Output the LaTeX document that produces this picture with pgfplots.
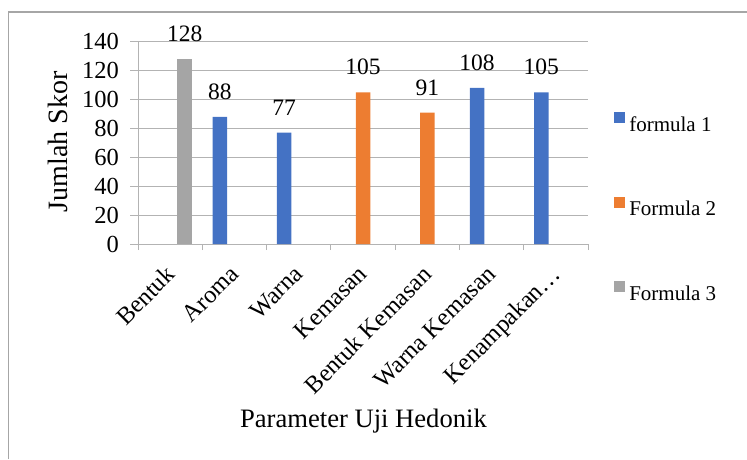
\documentclass[border=0pt]{standalone}
\usepackage{fontspec}
\setmainfont{Liberation Serif}
\usepackage{pgfplots}
\pgfplotsset{compat=1.18}
\definecolor{fa}{HTML}{4472C4}
\definecolor{fb}{HTML}{ED7D31}
\definecolor{fc}{HTML}{A5A5A5}
\definecolor{gridc}{HTML}{B3B3B3}
\definecolor{framec}{HTML}{A6A6A6}
\begin{document}
\begin{tikzpicture}
\path[use as bounding box] (0pt,0pt) rectangle (747pt,459pt);
\draw[framec, line width=1.2pt] (8.5pt,0pt) -- (8.5pt,447pt) -- (747pt,447pt);
\begin{axis}[
  at={(138pt,215pt)}, anchor=south west,
  scale only axis, width=450pt, height=202.3pt,
  xmin=-0.5, xmax=6.5, ymin=0, ymax=140,
  ytick={0,20,...,140},
  xtick={0,...,6},
  xticklabels={Bentuk,Aroma,Warna,Kemasan,Bentuk Kemasan,Warna Kemasan,Kenampakan…},
  minor xtick={-0.5,0.5,...,6.5},
  axis x line*=bottom, axis y line*=left,
  ymajorgrids, grid style={gridc, line width=0.8pt},
  axis line style={gridc, line width=0.8pt},
  tick style={gridc, line width=0.8pt},
  major x tick style={draw=none},
  tick align=outside, major tick length=8pt, minor tick length=6pt,
  /pgf/number format/assume math mode=true,
  yticklabel style={font=\fontsize{24.5}{24.5}\selectfont, inner sep=0pt, anchor=east, xshift=-11pt},
  xticklabel style={font=\fontsize{24.5}{24.5}\selectfont, inner sep=0pt, xshift=-6pt, yshift=-12pt, rotate=45, anchor=north east},
  ylabel={Jumlah Skor},
  ylabel style={font=\fontsize{28}{28}\selectfont, at={(axis description cs:-0.177,0.505)}, anchor=center},
  xlabel={Parameter Uji Hedonik},
  xlabel style={font=\fontsize{26.6}{26.6}\selectfont, at={(axis description cs:0.501,-0.9046)}, anchor=base},
  ybar, bar width=14.5pt,
  nodes near coords,
  every node near coord/.append style={font=\fontsize{23.5}{23.5}\selectfont, text=black, inner sep=0pt, anchor=south, yshift=17pt},
  legend cell align=left,
  legend style={draw=none, fill=none, at={(axis description cs:1.058,0.183)}, anchor=west,
    font=\fontsize{21}{21}\selectfont, row sep=64pt, inner sep=0pt, nodes={inner sep=0pt},
    /tikz/every odd column/.append style={column sep=4pt}},
]
\addplot[fill=fa, draw=none, bar shift=-14.5pt, legend image code/.code={\path[fill=fa] (0pt,1.5pt) rectangle (11pt,12.5pt);}]
  coordinates {(1,88) (2,77) (5,108) (6,105)};
\addlegendentry{formula 1}
\addplot[fill=fb, draw=none, bar shift=0pt, legend image code/.code={\path[fill=fb] (0pt,1.5pt) rectangle (11pt,12.5pt);}]
  coordinates {(3,105) (4,91)};
\addlegendentry{Formula 2}
\addplot[fill=fc, draw=none, bar shift=14.5pt, legend image code/.code={\path[fill=fc] (0pt,1.5pt) rectangle (11pt,12.5pt);}]
  coordinates {(0,128)};
\addlegendentry{Formula 3}
\end{axis}
\end{tikzpicture}
\end{document}
